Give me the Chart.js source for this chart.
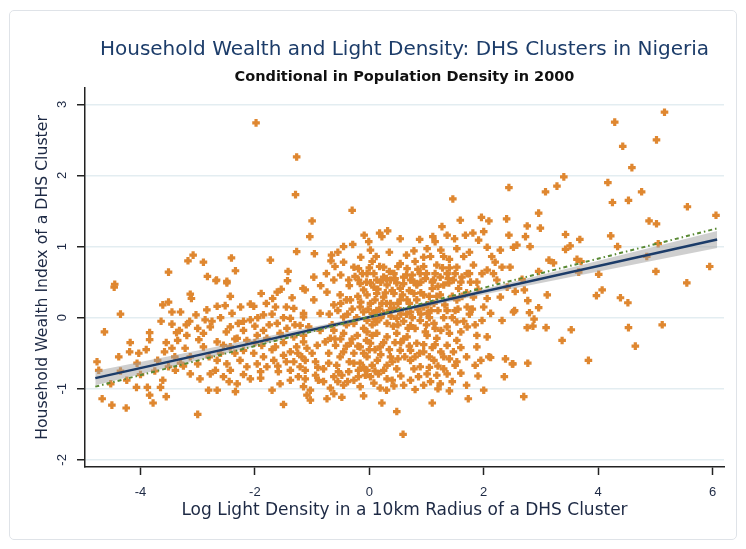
<!DOCTYPE html>
<html>
<head>
<meta charset="utf-8">
<title>Household Wealth and Light Density</title>
<script src="https://cdn.jsdelivr.net/npm/chart.js@4.4.1/dist/chart.umd.min.js"></script>
<style>
  html, body { margin: 0; padding: 0; background: #ffffff; }
  #wrap { position: relative; width: 746px; height: 549px; }
  #wrap canvas { position: absolute; left: 0; top: 0; }
  #frame { position: absolute; left: 9px; top: 10px; width: 728px; height: 530px;
           border: 1px solid #dfe3e8; border-radius: 5px; box-sizing: border-box; pointer-events: none; }
</style>
</head>
<body>
<div id="wrap">
  <canvas id="chart" width="746" height="549"></canvas>
  <div id="frame"></div>
</div>
<script>
// Axis ticks
const xTickValues = [-4, -2, 0, 2, 4, 6];
const yTickValues = [-2, -1, 0, 1, 2, 3];

// Fitted linear prediction (end points) and its confidence band
const fitX = [-4.79, 6.08];
const fitY = [-0.85, 1.10];
const bandX = [-4.79, -3, -1.5, 0, 0.5, 2, 3.5, 6.08];
const bandUpper = [-0.75, -0.46, -0.215, 0.035, 0.125, 0.405, 0.70, 1.22];
const bandLower = [-0.95, -0.60, -0.305, -0.019, 0.071, 0.327, 0.57, 0.98];

// Second (dash-dot) fit line
const altFitX = [-4.79, 6.10];
const altFitY = [-0.97, 1.26];

// DHS clusters: [log light density, household wealth index]
const clusterPoints = [
  [-1.98,2.74],[-1.27,2.26],[-1.29,1.73],[-1.27,0.93],[-3.08,0.88],[-3.17,0.80],[-2.90,0.78],[-2.41,0.84],[-1.73,0.81],[-3.51,0.64],[-2.83,0.58],[-2.68,0.52],[-2.49,0.51],[-2.34,0.66],[-1.42,0.65],[-1.43,0.52],[-4.45,0.47],
  [2.44,1.83],[1.46,1.67],[-0.30,1.51],[-1.00,1.36],[-1.04,1.14],[-0.96,0.90],[-0.66,0.88],[-0.67,0.80],[-0.29,1.03],[-0.09,1.16],[-0.01,1.07],[0.02,0.95],[0.12,0.86],[0.18,1.19],[0.32,1.22],[0.22,1.14],[0.54,1.11],[0.88,1.10],[0.78,0.94],[1.01,0.97],[1.11,1.14],[1.27,1.28],[1.15,1.07],[1.36,1.16],[1.49,1.11],[1.59,1.37],[1.53,0.97],[1.68,1.16],[1.81,1.19],[1.96,1.41],[2.09,1.36],[2.00,1.21],[1.91,1.09],[2.06,0.99],[2.40,1.39],[2.44,1.16],[2.29,0.95],[2.14,0.86],[2.52,0.99],[2.46,0.71],[-0.27,0.71],[-0.19,0.69],[-0.04,0.62],[0.05,0.79],[0.25,0.71],[0.43,0.62],[0.54,0.76],[0.66,0.69],[0.80,0.79],[0.89,0.62],[1.07,0.86],[1.18,0.74],[1.30,0.86],[1.36,0.62],[1.53,0.71],[1.65,0.86],[1.71,0.62],[1.82,0.74],[1.97,0.62],[2.17,0.62],[2.32,0.71],[-0.97,0.57],[-0.62,0.53],[-0.36,0.53],[0.13,0.53],[0.37,0.53],[0.72,0.53],[1.12,0.53],[1.47,0.53],[1.77,0.50],
  [-0.19,0.53],[0.02,0.49],[0.25,0.57],[0.48,0.49],[0.60,0.57],[0.83,0.48],[0.98,0.55],[1.24,0.57],[1.39,0.49],[1.62,0.57],[1.88,0.50],[2.06,0.67],[2.23,0.53],
  [5.16,2.89],[4.29,2.75],[5.02,2.50],[4.43,2.41],[4.59,2.11],[4.17,1.90],[4.76,1.77],[4.53,1.65],[4.25,1.62],[3.40,1.98],[3.28,1.85],[3.08,1.77],[5.56,1.56],[6.06,1.44],[2.96,1.47],[2.76,1.29],[2.99,1.26],[2.73,1.14],[2.58,1.02],[2.81,1.00],[3.43,1.17],[3.68,1.10],[3.51,1.01],[3.43,0.96],[4.22,1.15],[4.34,1.00],[4.89,1.36],[5.02,1.32],[5.05,1.04],[4.85,0.86],[3.14,0.81],[3.22,0.77],[3.63,0.82],[3.70,0.79],[3.66,0.64],[4.01,0.61],[2.96,0.65],[2.67,0.54],[5.01,0.65],[5.95,0.72],[5.55,0.49],
  [2.55,0.37],[2.71,0.39],[3.11,0.32],[3.97,0.31],[4.07,0.39],[4.39,0.28],[4.52,0.21],[2.77,0.24],[2.96,0.14],[2.54,0.10],[2.80,0.07],[2.88,-0.02],[2.76,-0.14],[2.86,-0.12],[3.09,-0.14],[3.53,-0.17],[3.37,-0.32],[4.53,-0.14],[5.12,-0.10],[4.65,-0.40],[3.83,-0.60],[2.77,-0.64],[2.51,-0.65],[2.70,-1.11],
  [-4.46,0.43],[-3.13,0.33],[-3.11,0.27],[-3.61,0.18],[-4.35,0.05],[-4.63,-0.20],[-3.84,-0.21],[-3.84,-0.31],[-4.18,-0.35],[-3.64,-0.05],[-3.45,0.08],[-3.30,0.08],[-3.45,-0.09],[-3.14,-0.05],[-3.03,0.04],[-2.84,0.11],[-2.66,0.16],[-2.52,0.17],[-2.43,0.30],[-2.40,0.06],[-2.67,0.53],[-2.49,0.49],[-2.87,-0.03],[-2.78,-0.13],[-2.90,-0.22],[-3.37,-0.21],[-3.19,-0.25],[-2.98,-0.31],[-3.35,-0.32],[-3.45,-0.43],[-3.58,-0.48],[-3.22,-0.43],[-2.90,-0.41],[-2.66,-0.34],[-2.55,-0.39],[-2.43,-0.13],[-2.29,-0.08],[-2.08,-0.03],[-2.08,0.19],[-2.02,0.16],[-1.89,0.34],[-1.69,0.27],[-1.61,0.36],[-1.54,0.40],[-1.35,0.28],[-1.16,0.41],[-1.85,0.04],[-1.70,0.05],[-1.61,-0.08],[-1.38,-0.01],[-1.21,-0.11],[-2.31,-0.29],[-2.14,-0.32],[-1.96,-0.25],[-1.79,-0.29],[-1.56,-0.22],[-1.32,-0.27],[-1.15,-0.25],[-2.20,-0.46],[-2.02,-0.50],[-1.85,-0.55],[-1.67,-0.60],[-1.50,-0.53],[-1.32,-0.62],[-1.18,-0.55],[-2.26,-0.60],[-2.49,-0.65],[-2.66,-0.60],[-3.13,-0.55],[-3.30,-0.64],[-3.39,-0.74],[-3.13,-0.79],[-2.96,-0.86],[-2.78,-0.79],[-3.51,-0.69],[-3.61,-0.88],[-3.65,-0.98],[-3.88,-0.98],[-3.84,-1.09],[-3.55,-1.11],[-3.78,-1.20],[-4.07,-0.98],[-4.24,-0.88],[-4.52,-0.93],[-4.67,-1.14],[-4.50,-1.23],[-4.25,-1.27],[-3.00,-1.36],[-1.50,-1.22],[-4.76,-0.62],[-4.73,-0.74],[-4.38,-0.55],[-4.19,-0.48],[-4.03,-0.50],[-2.81,-1.02],[-2.66,-1.02],[-2.34,-1.04],[-2.31,-0.93],[-2.08,-0.86],[-1.90,-0.76],[-1.70,-1.02],[-1.56,-0.93],[-1.38,-0.88],[-1.24,-0.83],[-2.55,-0.83],[-2.69,-0.74],[-2.43,-0.74],[-2.14,-0.69],[-1.96,-0.65],[-1.79,-0.69],[-1.59,-0.76],[-1.38,-0.74],[-1.21,-0.69],[-1.38,-0.48],[-1.27,-0.41],[-1.64,-0.41],[-1.88,-0.39],[-2.20,-0.18],[-1.85,-0.18],[-1.44,-0.15],[-1.64,0.15],[-1.32,0.13],[-1.15,0.06],[-2.43,-0.41],[-3.51,0.22],[-3.32,-0.18],[-4.06,-0.64],
  [0.59,-1.64],[0.48,-1.32],[1.10,-1.20],[0.22,-1.20],[1.73,-1.14],[2.00,-1.02],[2.36,-0.83],[-1.03,-1.16],[-0.74,-1.14],[-0.48,-1.12],[-0.10,-1.10],[1.40,-1.03],[0.80,-1.01],[-1.03,-1.02],[-0.68,-0.99],[-0.45,-0.95],[0.19,-0.99],[0.43,-0.96],[1.24,-0.93],[1.07,-0.90],[0.72,-0.88],[2.12,-0.56],[2.38,-0.58],[2.50,-0.65],[1.85,-0.67],[1.50,-0.67],[1.30,-0.72],[-0.54,-0.76],[-0.36,-0.76],[-0.19,-0.74],[0.02,-0.83],[0.31,-0.86],[0.48,-0.72],[1.01,-0.79],[-1.12,-0.86],[-0.94,-0.81],[-0.62,-0.83],[-0.27,-0.88],[-1.12,-0.74],[-0.94,-0.62],[-1.12,-0.60],[-1.09,-0.43],[-1.00,-0.50],[-1.15,-0.34],[-0.77,-0.34],[-0.68,-0.29],[-0.51,-0.55],[-0.27,-0.50],[-0.16,-0.64],[-0.04,-0.55],[0.14,-0.60],[0.31,-0.67],[0.37,-0.55],[0.19,-0.41],[0.02,-0.36],[-0.16,-0.41],[-0.33,-0.36],[-0.45,-0.48],[0.54,-0.46],[0.72,-0.46],[0.83,-0.36],[0.95,-0.48],[1.13,-0.60],[0.72,-0.60],[0.89,-0.69],[1.30,-0.55],[1.47,-0.48],[1.53,-0.62],[1.36,-0.39],[1.18,-0.29],[1.01,-0.25],[0.66,-0.27],[0.48,-0.22],[0.31,-0.27],[0.13,-0.22],[-0.04,-0.20],[-0.21,-0.25],[-0.45,-0.22],[-0.62,-0.18],[-0.86,-0.18],[-1.06,-0.13],[-1.15,0.01],[-0.86,0.06],[-0.97,0.25],[-1.12,0.39],[-0.74,0.36],[-0.62,0.18],[-0.51,0.32],[-0.33,0.25],[-0.10,0.39],[-0.16,0.15],[0.02,0.20],[0.13,0.10],[0.25,0.29],[0.37,0.20],[0.54,0.10],[0.66,0.25],[0.78,0.34],[0.95,0.15],[1.13,0.20],[1.36,0.10],[1.53,0.25],[1.71,0.15],[1.82,0.29],[2.06,0.27],[2.29,0.29],[2.41,0.43],[2.52,0.08],[1.97,-0.04],[2.12,0.06],[2.32,-0.04],[1.71,-0.13],[1.53,-0.06],[1.36,-0.13],[1.13,-0.08],[0.89,-0.04],[0.72,-0.11],[0.48,-0.01],[0.31,-0.08],[0.13,-0.06],[-0.04,-0.04],[-0.27,-0.08],[-0.45,0.01],[1.88,-0.25],[2.06,-0.27],[1.53,-0.32],[1.88,-0.41],[2.09,-0.55],[-0.57,-0.67],[-0.80,-0.72],[-0.04,-0.74],[0.16,-0.79],[-0.71,-0.50],[-0.91,-0.39],[0.86,-0.83],[1.18,-0.81],[1.36,-0.79],[0.40,-0.88],[-0.16,-0.97],[-0.07,-0.81],[-0.48,-0.81],
  [-0.16,0.48],[0.08,0.43],[0.31,0.46],[0.54,0.41],[0.83,0.46],[1.10,0.41],[1.30,0.46],[1.56,0.41],[-0.04,0.32],[0.13,0.34],[0.43,0.34],[0.95,0.32],[1.24,0.32],[-0.10,0.08],[0.05,0.06],[0.25,0.06],[0.43,0.13],[0.72,0.08],[1.01,0.06],[0.22,0.20],[0.54,0.25],[0.83,0.25],
  [-0.27,-0.64],[-0.19,-0.83],[0.05,-0.67],[0.25,-0.74],[-0.59,-0.39],[-0.71,-0.64],[-0.89,-0.88],[-1.15,-0.97],[-1.09,-1.09],[-0.62,-1.07],
  [-0.50,0.60],[-0.35,0.45],[-0.20,0.30],[0.00,0.70],[0.10,0.25],[0.20,0.50],[0.35,0.65],[0.40,0.38],[0.50,0.20],[0.60,0.48],[0.70,0.38],[0.75,0.60],[0.90,0.50],[0.95,0.72],[1.05,0.30],[1.15,0.62],[1.20,0.44],[1.40,0.70],[1.45,0.30],[1.60,0.50],[1.70,0.35],
  [-0.55,0.10],[-0.40,-0.10],[-0.30,0.12],[-0.10,-0.15],[0.05,-0.10],[0.20,0.00],[0.35,0.10],[0.42,-0.12],[0.60,-0.05],[0.65,0.05],[0.80,-0.15],[0.85,0.12],[1.00,-0.10],[1.05,0.00],[1.20,0.10],[1.25,-0.18],[1.45,0.00],[1.60,-0.20],
  [-0.50,-0.30],[-0.30,-0.30],[-0.05,-0.32],[0.10,-0.45],[0.25,-0.35],[0.45,-0.35],[0.60,-0.30],[0.62,-0.55],[0.80,-0.55],[0.95,-0.38],[1.10,-0.42],[1.20,-0.68],[-0.10,-0.50],[0.40,-0.62],
  [-0.75,0.62],[-0.60,0.72],[-0.45,0.78],[-0.40,0.25],[-0.25,0.58],[-0.12,0.62],[-0.05,0.50],[0.08,0.62],[0.15,0.40],[0.18,0.72],[0.30,0.55],[0.28,0.35],[0.45,0.55],[0.50,0.72],[0.58,0.32],[0.65,0.60],[0.70,0.20],[0.78,0.50],[0.85,0.68],[0.90,0.35],[1.00,0.62],[1.02,0.18],[1.10,0.50],[1.18,0.30],[1.28,0.70],[1.32,0.18],[1.38,0.55],[1.50,0.62],[1.55,0.12],[1.62,0.30],[1.75,0.62],[1.80,0.12],[1.90,0.40],[2.00,0.15],
  [-0.70,0.05],[-0.65,-0.10],[-0.50,0.20],[-0.38,0.05],[-0.22,0.00],[-0.15,0.22],[-0.02,0.12],[0.10,-0.02],[0.18,0.12],[0.30,0.20],[0.38,0.02],[0.50,-0.10],[0.55,0.05],[0.68,-0.15],[0.75,0.00],[0.90,0.05],[0.98,-0.20],[1.08,0.10],[1.15,-0.15],[1.30,0.00],[1.40,-0.22],[1.50,0.10],[1.65,-0.05],[1.75,0.05],[1.85,-0.10],
  [-0.60,-0.30],[-0.40,-0.40],[-0.20,-0.40],[0.00,-0.45],[0.05,-0.25],[0.20,-0.52],[0.35,-0.45],[0.50,-0.58],[0.55,-0.35],[0.70,-0.40],[0.88,-0.50],[1.05,-0.55],[1.15,-0.38],[1.25,-0.48],[1.40,-0.58],[1.60,-0.42],[1.70,-0.55],[1.95,-0.60],
  [-0.90,-0.70],[-0.80,-0.90],[-0.55,-0.90],[-0.35,-0.62],[-0.38,-0.90],[-0.10,-0.70],[0.08,-0.92],[0.10,-0.75],[0.30,-1.02],[0.55,-0.82],[0.60,-0.95],[0.78,-0.72],[0.95,-0.95],[1.05,-0.70],[1.20,-1.00],[1.45,-0.90],[1.60,-0.78],[1.70,-0.95],[1.90,-0.82],
  [-3.20,-0.10],[-3.00,-0.15],[-2.75,-0.05],[-2.60,0.00],[-2.50,-0.20],[-2.35,-0.30],[-2.20,-0.05],[-2.00,-0.12],[-1.95,0.00],[-1.75,-0.10],[-1.50,0.00],[-1.45,0.15],[-1.30,-0.10],[-1.80,0.20],[-2.25,0.15],[-2.60,-0.50],[-2.80,-0.55],[-3.00,-0.65],[-3.25,-0.68],[-2.35,-0.50],[-2.00,-0.35],[-1.70,-0.45],[-1.50,-0.35],[-1.25,-0.50],[-1.45,-0.62],[-1.60,-0.68],[-1.90,-0.85],[-2.20,-0.80],[-2.45,-0.90],[-3.40,-0.55],[-3.70,-0.60],[-3.90,-0.45],[-3.75,-0.75],[-4.00,-0.80],[-4.35,-0.75],[-3.55,-0.35],
  [-0.85,0.45],[-0.55,0.92],[-0.45,1.00],[-0.15,0.85],[0.35,0.92],[0.65,0.88],[0.95,0.85],[1.25,0.95],[1.40,0.82],[1.75,0.92],[2.20,0.78]
];

const FONT = '"Liberation Sans", Arial, Helvetica, sans-serif';
const WIDE_FONT = '"DejaVu Sans", Verdana, sans-serif';
const ORANGE = 'rgb(223,135,48)';
const NAVY = '#1c3c69';
const TEXT = '#1d2944';
const AXIS = '#222222';

Chart.defaults.font.family = FONT;

const toXY = (xs, ys) => xs.map((x, i) => ({ x: x, y: ys[i] }));

// y tick labels are printed vertically, reading bottom to top
const verticalYTickLabels = {
  id: 'verticalYTickLabels',
  afterDraw(chart) {
    const scale = chart.scales.y;
    const ctx = chart.ctx;
    ctx.save();
    ctx.font = '13px ' + FONT;
    ctx.fillStyle = TEXT;
    ctx.textAlign = 'center';
    ctx.textBaseline = 'middle';
    scale.ticks.forEach(t => {
      const py = scale.getPixelForValue(t.value);
      ctx.save();
      ctx.translate(scale.right - 23, py);
      ctx.rotate(-Math.PI / 2);
      ctx.fillText(String(t.value), 0, 0);
      ctx.restore();
    });
    ctx.restore();
  }
};

new Chart(document.getElementById('chart'), {
  type: 'scatter',
  data: {
    datasets: [
      {
        label: 'Fit (unconditional)',
        data: toXY(altFitX, altFitY),
        showLine: true,
        borderColor: '#5a8a35',
        borderWidth: 2,
        borderDash: [4, 3, 1.5, 3],
        pointRadius: 0,
        fill: false
      },
      {
        label: 'Linear fit',
        data: toXY(fitX, fitY),
        showLine: true,
        borderColor: NAVY,
        borderWidth: 2.5,
        pointRadius: 0,
        fill: false
      },
      {
        label: 'CI upper',
        data: toXY(bandX, bandUpper),
        showLine: true,
        borderWidth: 0,
        borderColor: 'rgba(0,0,0,0)',
        backgroundColor: 'rgba(160,160,160,0.5)',
        pointRadius: 0,
        fill: '+1'
      },
      {
        label: 'CI lower',
        data: toXY(bandX, bandLower),
        showLine: true,
        borderWidth: 0,
        borderColor: 'rgba(0,0,0,0)',
        pointRadius: 0,
        fill: false
      },
      {
        label: 'DHS clusters',
        data: clusterPoints.map(p => ({ x: p[0], y: p[1] })),
        pointStyle: 'cross',
        pointRadius: 3.8,
        pointBorderWidth: 3.2,
        borderColor: ORANGE,
        backgroundColor: ORANGE,
        pointHoverRadius: 3.8
      }
    ]
  },
  options: {
    responsive: false,
    animation: false,
    events: [],
    layout: { padding: { left: 18, right: 22, top: 38, bottom: 18 } },
    plugins: {
      legend: { display: false },
      tooltip: { enabled: false },
      title: {
        display: true,
        fullSize: false,
        text: 'Household Wealth and Light Density: DHS Clusters in Nigeria',
        color: NAVY,
        font: { size: 20, weight: 'normal', family: WIDE_FONT },
        padding: { top: 0, bottom: 7 }
      },
      subtitle: {
        display: true,
        fullSize: false,
        text: 'Conditional in Population Density in 2000',
        color: '#111111',
        font: { size: 14.5, weight: 'bold', family: WIDE_FONT },
        padding: { top: 0, bottom: 1.6 }
      }
    },
    scales: {
      x: {
        type: 'linear',
        min: -4.97,
        max: 6.2,
        afterBuildTicks: s => { s.ticks = xTickValues.map(v => ({ value: v })); },
        afterFit: s => { s.height = 64; },
        ticks: { color: TEXT, font: { size: 13 }, padding: 10 },
        grid: { drawOnChartArea: false, drawTicks: true, tickLength: 8, tickColor: AXIS, tickWidth: 1.5 },
        border: { color: AXIS, width: 1.5 },
        title: {
          display: true,
          text: 'Log Light Density in a 10km Radius of a DHS Cluster',
          color: TEXT,
          font: { size: 17, family: WIDE_FONT },
          padding: { top: 0, bottom: 9.8 }
        }
      },
      y: {
        type: 'linear',
        min: -2.10,
        max: 3.23,
        afterBuildTicks: s => { s.ticks = yTickValues.map(v => ({ value: v })); },
        afterFit: s => { s.width = 67; },
        ticks: { color: 'rgba(0,0,0,0)', font: { size: 13 } },
        grid: { color: '#e3edf1', lineWidth: 1.5, drawTicks: true, tickLength: 8, tickColor: AXIS, tickWidth: 1.5 },
        border: { color: AXIS, width: 1.5 },
        title: {
          display: true,
          text: 'Household Wealth Index of a DHS Cluster',
          color: TEXT,
          font: { size: 15.7, family: WIDE_FONT },
          padding: { top: 15.6, bottom: 0 }
        }
      }
    }
  },
  plugins: [verticalYTickLabels]
});
</script>
</body>
</html>
